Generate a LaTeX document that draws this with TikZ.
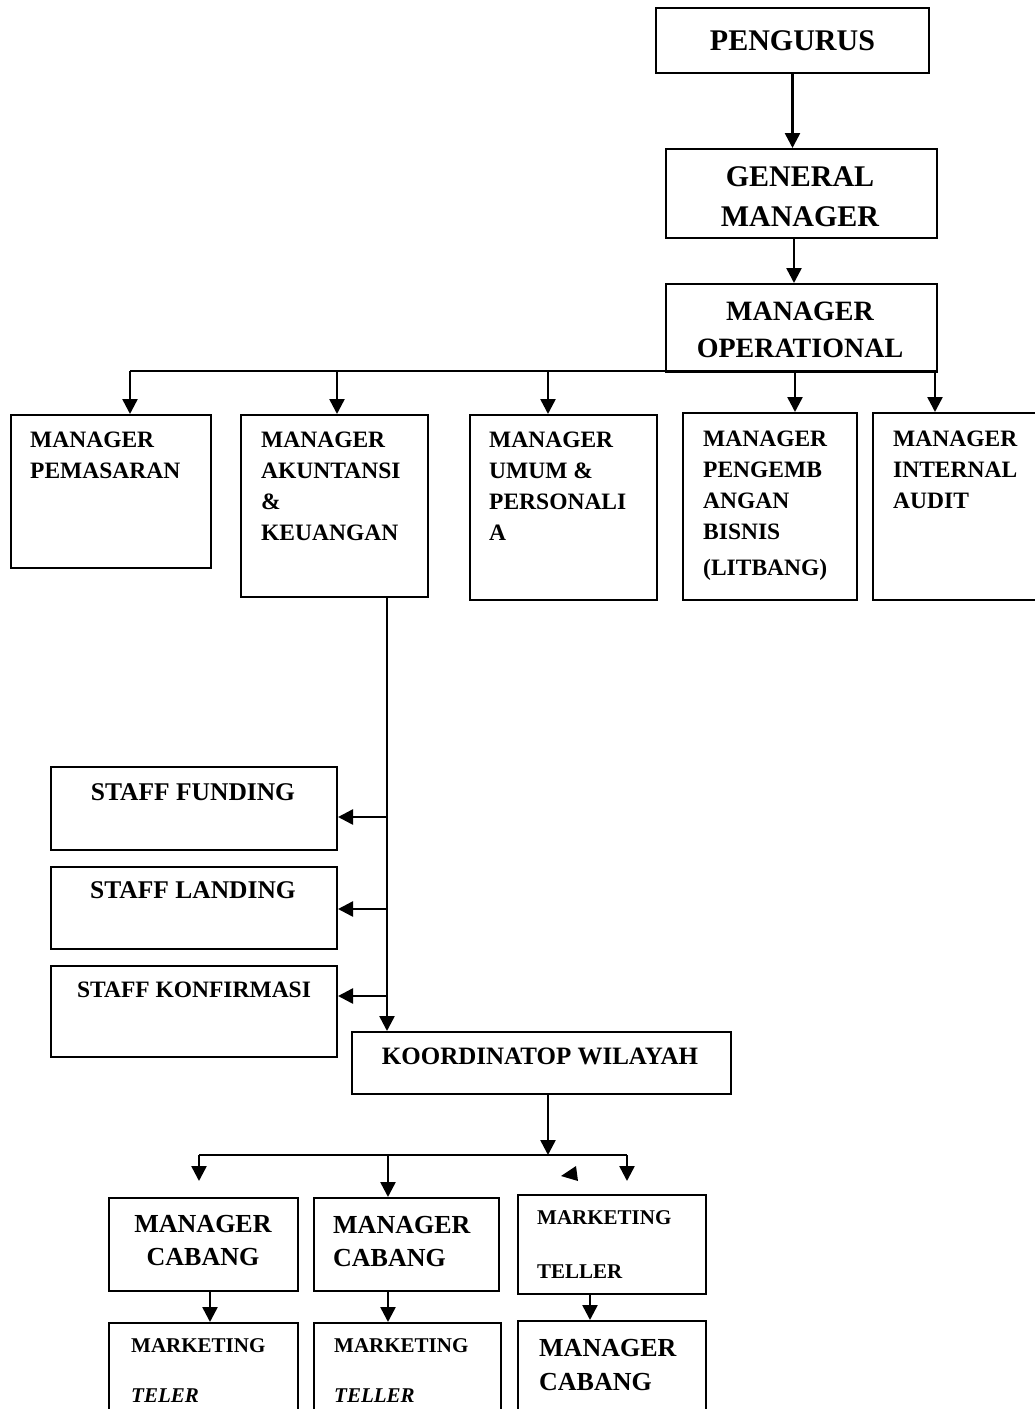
\documentclass[tikz,border=0pt]{standalone}
\usepackage{fontspec}
\setmainfont{Liberation Serif}
\usetikzlibrary{arrows.meta}
\begin{document}
\begin{tikzpicture}[x=1pt,y=-1pt,
 box/.style={draw, line width=2pt, anchor=north west, inner sep=0pt},
 arr/.style={line width=2.5pt, -{Triangle[length=15pt,width=15pt]}},
 ln/.style={line width=2.5pt},
 txt/.style={inner sep=0pt, align=left},
 big/.style={font=\fontsize{30}{40}\selectfont\bfseries},
 mid/.style={font=\fontsize{23.5}{31}\selectfont\bfseries},
 sml/.style={font=\fontsize{21}{27}\selectfont\bfseries},
]
\useasboundingbox (0,0) rectangle (1035,1409);
\fill[white] (0,0) rectangle (1035,1409);
\clip (0,0) rectangle (1035,1409);

% top chain
\node[box, minimum width=273, minimum height=65] (peng) at (655,7) {};
\node[txt, big] (tpeng) at (peng.center) {PENGURUS};
\node[box, minimum width=271, minimum height=89] (gm) at (665,148) {};
\node[txt, big, align=center] (tgm) at (800,197) {GENERAL\\MANAGER};
\node[box, minimum width=271, minimum height=88] (mo) at (665,283) {};
\node[txt, font=\fontsize{28}{37}\selectfont\bfseries, align=center] (tmo) at (800,330) {MANAGER\\OPERATIONAL};

\draw[arr] (peng.south) -- (peng.south |- gm.north);
\coordinate (g1) at (794,237);
\draw[arr] (g1) -- (g1 |- mo.north);

% managers row
\node[box, minimum width=200, minimum height=153] (b1) at (10,414) {};
\node[box, minimum width=187, minimum height=182] (b2) at (240,414) {};
\node[box, minimum width=187, minimum height=185] (b3) at (469,414) {};
\node[box, minimum width=174, minimum height=187] (b4) at (682,412) {};
\node[box, minimum width=164, minimum height=187] (b5) at (872,412) {};
\node[txt, mid, anchor=north west] (t1) at (30,432) {MANAGER\\PEMASARAN};
\node[txt, mid, anchor=north west] (t2) at (261,432) {MANAGER\\AKUNTANSI\\\&\\KEUANGAN};
\node[txt, mid, anchor=north west] (t3) at (489,432) {MANAGER\\UMUM \&\\PERSONALI\\A};
\node[txt, mid, anchor=north west] (t4) at (703,431) {MANAGER\\PENGEMB\\ANGAN\\BISNIS\\[5pt](LITBANG)};
\node[txt, mid, anchor=north west] (t5) at (893,431) {MANAGER\\INTERNAL\\AUDIT};

\coordinate (busL) at (130,371);
\coordinate (busR) at (936,371);
\draw[ln] (busL) -- (busR);
\coordinate (a1) at (130,371);
\coordinate (a2) at (337,371);
\coordinate (a3) at (548,371);
\coordinate (a4) at (795,371);
\coordinate (a5) at (935,371);
\draw[arr] (a1) -- (a1 |- b1.north);
\draw[arr] (a2) -- (a2 |- b2.north);
\draw[arr] (a3) -- (a3 |- b3.north);
\draw[arr] (a4) -- (a4 |- b4.north);
\draw[arr] (a5) -- (a5 |- b5.north);

% staff
\node[box, minimum width=286, minimum height=83] (sf) at (50,766) {};
\node[box, minimum width=286, minimum height=82] (sl) at (50,866) {};
\node[box, minimum width=286, minimum height=91] (sk) at (50,965) {};
\node[txt, font=\fontsize{25.5}{30}\selectfont\bfseries] (tsf) at (193,792) {STAFF FUNDING};
\node[txt, font=\fontsize{25.5}{30}\selectfont\bfseries] (tsl) at (193,890) {STAFF LANDING};
\node[txt, font=\fontsize{23.5}{30}\selectfont\bfseries] (tsk) at (194,990) {STAFF KONFIRMASI};

\node[box, minimum width=379, minimum height=62] (koor) at (351,1031) {};
\node[txt, font=\fontsize{25}{30}\selectfont\bfseries] (tkoor) at (540,1056) {KOORDINATOP WILAYAH};

\coordinate (v) at (387,596);
\draw[arr] (v) -- (v |- koor.north);
\coordinate (s1) at (387,817);
\coordinate (s2) at (387,909);
\coordinate (s3) at (387,996);
\draw[arr] (s1) -- (s1 -| sf.east);
\draw[arr] (s2) -- (s2 -| sl.east);
\draw[arr] (s3) -- (s3 -| sk.east);

% branches
\node[box, minimum width=189, minimum height=93] (mc1) at (108,1197) {};
\node[box, minimum width=185, minimum height=93] (mc2) at (313,1197) {};
\node[box, minimum width=188, minimum height=99] (mt) at (517,1194) {};
\node[box, minimum width=189, minimum height=130] (r1) at (108,1322) {};
\node[box, minimum width=187, minimum height=130] (r2) at (313,1322) {};
\node[box, minimum width=188, minimum height=130] (r3) at (517,1320) {};

\node[txt, font=\fontsize{26}{33}\selectfont\bfseries, align=center] (tmc1) at (203,1241) {MANAGER\\CABANG};
\node[txt, font=\fontsize{26}{33}\selectfont\bfseries, anchor=north west] (tmc2) at (333,1216) {MANAGER\\CABANG};
\node[txt, sml, anchor=north west] (tmt) at (537,1210) {MARKETING\\[27pt]TELLER};
\node[txt, sml, anchor=north west] (tr1) at (131,1338) {MARKETING\\[23pt]\textit{TELER}};
\node[txt, sml, anchor=north west] (tr2) at (334,1338) {MARKETING\\[23pt]\textit{TELLER}};
\node[txt, font=\fontsize{26}{34}\selectfont\bfseries, anchor=north west] (tr3) at (539,1339) {MANAGER\\CABANG};

\coordinate (k) at (548,1093);
\coordinate (kb) at (548,1155);
\draw[arr] (k) -- (kb);
\coordinate (c1) at (199,1155);
\coordinate (c2) at (388,1155);
\coordinate (c3) at (627,1155);
\draw[ln] (c1) -- (c3);
\coordinate (e1) at (199,1181);
\coordinate (e3) at (627,1181);
\draw[arr] (c1) -- (e1);
\draw[arr] (c2) -- (c2 |- mc2.north);
\draw[arr] (c3) -- (e3);
\fill (561,1176) -- (576,1166) -- (578,1181) -- cycle;

\coordinate (d1) at (210,1290);
\coordinate (d2) at (388,1290);
\coordinate (d3) at (590,1293);
\draw[arr] (d1) -- (d1 |- r1.north);
\draw[arr] (d2) -- (d2 |- r2.north);
\draw[arr] (d3) -- (d3 |- r3.north);
\end{tikzpicture}
\end{document}
